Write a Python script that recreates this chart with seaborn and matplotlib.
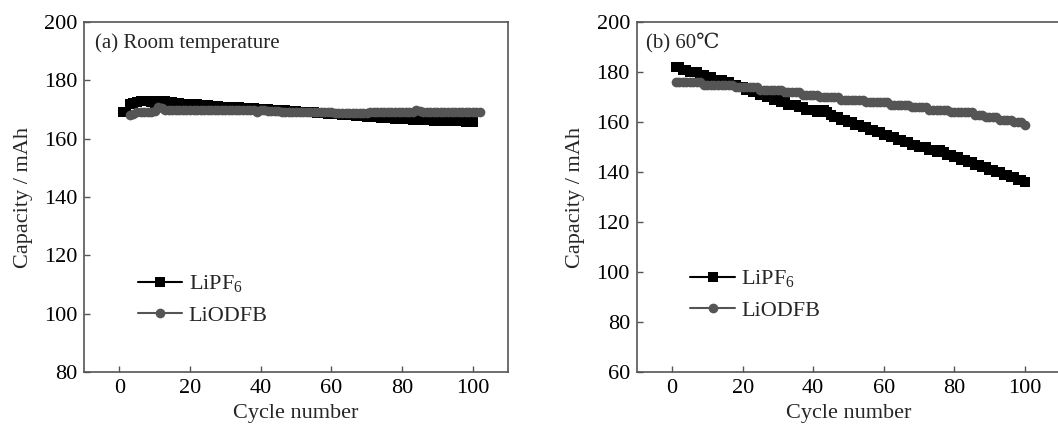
import pandas as pd
import matplotlib.pyplot as plt
import seaborn as sns

# capacity vs cycle
cycles_a_pf6 = list(range(1, 101))
cap_a_pf6 = [169, 169, 172, 172.3, 172.6, 173, 173, 172.8, 172.5, 172.3,
             173, 173, 173, 172.7, 172.5, 172.3, 172.2, 172, 172, 172,
             171.8, 171.8, 171.6, 171.5, 171.4, 171.3, 171.2, 171.1, 171, 171,
             170.9, 170.8, 170.8, 170.7, 170.6, 170.5, 170.5, 170.4, 170.3, 170.2,
             170.2, 170.1, 170, 170, 169.9, 169.8, 169.7, 169.6, 169.5, 169.4,
             169.3, 169.2, 169.1, 169, 169, 168.9, 168.8, 168.7, 168.6, 168.5,
             168.4, 168.3, 168.2, 168.1, 168, 168, 167.9, 167.8, 167.7, 167.6,
             167.5, 167.4, 167.3, 167.2, 167.1, 167, 167, 166.9, 166.8, 166.7,
             166.6, 166.6, 166.5, 166.5, 166.4, 166.4, 166.3, 166.3, 166.2, 166.2,
             166.1, 166.1, 166, 166, 166, 165.9, 165.9, 165.8, 165.8, 165.8]

cycles_a_odfb = list(range(3, 103))
cap_a_odfb = [168, 168.5, 169, 169, 169, 169, 169, 169.5,
              171, 170.5, 169.8, 170, 170, 170, 170, 170, 170, 170,
              170, 170, 170, 170, 170, 169.9, 169.9, 169.9, 169.9, 169.9,
              169.9, 169.8, 169.8, 169.8, 169.8, 169.8, 169.8, 169.8,
              169, 169.7, 170, 169.5, 169.5, 169.4, 169.4, 169.3, 169.3, 169.3,
              169.2, 169.2, 169.2, 169.1, 169.1, 169.1, 169, 169, 169, 169,
              169, 169, 168.9, 168.9, 168.8, 168.8, 168.8, 168.8, 168.8, 168.8,
              168.9, 168.9, 169, 169, 169, 169, 169, 169, 169, 169,
              169, 169, 169, 169, 169, 170, 169.5, 169.2, 169, 169,
              169, 169, 169.1, 169.1, 169.1, 169.2, 169.2, 169.2, 169.3, 169.3,
              169.3, 169.3, 169.3, 169.3]

cycles_b = list(range(1, 101))
cap_b_pf6 = [182, 182, 181, 181, 180, 180, 180, 179, 179, 178,
             178, 177, 177, 177, 176, 176, 175, 175, 174, 174,
             173, 173, 172, 172, 171, 171, 170, 170, 169, 169,
             168, 168, 167, 167, 167, 166, 166, 165, 165, 165,
             164, 165, 165, 164, 163, 162, 162, 161, 161, 160,
             160, 159, 159, 158, 158, 157, 157, 156, 156, 155,
             155, 154, 154, 153, 153, 152, 152, 151, 151, 150,
             150, 150, 149, 149, 148, 149, 148, 147, 147, 146,
             146, 145, 145, 144, 144, 143, 143, 142, 142, 141,
             141, 140, 140, 139, 139, 138, 138, 137, 137, 136]
cap_b_odfb = [176, 176, 176, 176, 176, 176, 176, 176,
              175, 175, 175, 175, 175, 175, 175, 175, 175,
              174, 174, 174, 174, 174, 174, 174,
              173, 173, 173, 173, 173, 173, 173,
              172, 172, 172, 172, 172,
              171, 171, 171, 171, 171,
              170, 170, 170, 170, 170, 170,
              169, 169, 169, 169, 169, 169, 169,
              168, 168, 168, 168, 168, 168, 168,
              167, 167, 167, 167, 167, 167,
              166, 166, 166, 166, 166,
              165, 165, 165, 165, 165, 165,
              164, 164, 164, 164, 164, 164, 164,
              163, 163, 163,
              162, 162, 162, 162,
              161, 161, 161, 161,
              160, 160, 160,
              159]

sns.set_style('ticks')
plt.rcParams['font.family'] = ['Liberation Serif', 'DejaVu Serif']
plt.rcParams['mathtext.fontset'] = 'custom'
plt.rcParams['mathtext.rm'] = 'Liberation Serif'

fig = plt.figure(figsize=(10.58, 4.25), dpi=100)
ax1 = fig.add_axes([0.0794, 0.1247, 0.4008, 0.8235])
ax2 = fig.add_axes([0.602, 0.1247, 0.3998, 0.8235])

spine_col = '#555555'


def draw(ax, x1, y1, x2, y2):
    d1 = pd.DataFrame({'cycle': x1, 'cap': y1})
    d2 = pd.DataFrame({'cycle': x2, 'cap': y2})
    sns.lineplot(data=d1, x='cycle', y='cap', ax=ax, color='black', marker='s',
                 markersize=6.5, markeredgewidth=0, linewidth=1.5,
                 label=r'LiPF$_\mathrm{6}$')
    sns.lineplot(data=d2, x='cycle', y='cap', ax=ax, color='#555555', marker='o',
                 markersize=7, markeredgewidth=0, linewidth=1.5,
                 label='LiODFB')
    ax.set_xlim(-10, 110)
    ax.set_xticks([0, 20, 40, 60, 80, 100])
    ax.tick_params(direction='in', length=4, width=1, colors=spine_col,
                   labelcolor='black', labelsize=16, pad=5)
    for s in ax.spines.values():
        s.set_color(spine_col)
        s.set_linewidth(1.2)
    ax.set_xlabel('Cycle number', fontsize=16, labelpad=4)
    ax.set_ylabel('Capacity / mAh', fontsize=16, labelpad=8)


draw(ax1, cycles_a_pf6, cap_a_pf6, cycles_a_odfb, cap_a_odfb)
ax1.set_ylim(80, 200)
ax1.set_yticks([80, 100, 120, 140, 160, 180, 200])
ax1.text(0.025, 0.94, '(a) Room temperature', transform=ax1.transAxes,
         fontsize=15, va='center', ha='left')
ax1.legend(loc='lower left', bbox_to_anchor=(0.1, 0.10), frameon=False,
           fontsize=16, handlelength=2.0, handletextpad=0.3, labelspacing=0.45,
           borderpad=0)

draw(ax2, cycles_b, cap_b_pf6, cycles_b, cap_b_odfb)
ax2.set_ylim(60, 200)
ax2.set_yticks([60, 80, 100, 120, 140, 160, 180, 200])
ax2.text(0.022, 0.94, '(b) 60\u2103', transform=ax2.transAxes,
         fontsize=15, va='center', ha='left')
ax2.legend(loc='lower left', bbox_to_anchor=(0.1, 0.115), frameon=False,
           fontsize=16, handlelength=2.0, handletextpad=0.3, labelspacing=0.45,
           borderpad=0)

fig.savefig('out.png', dpi=100)
